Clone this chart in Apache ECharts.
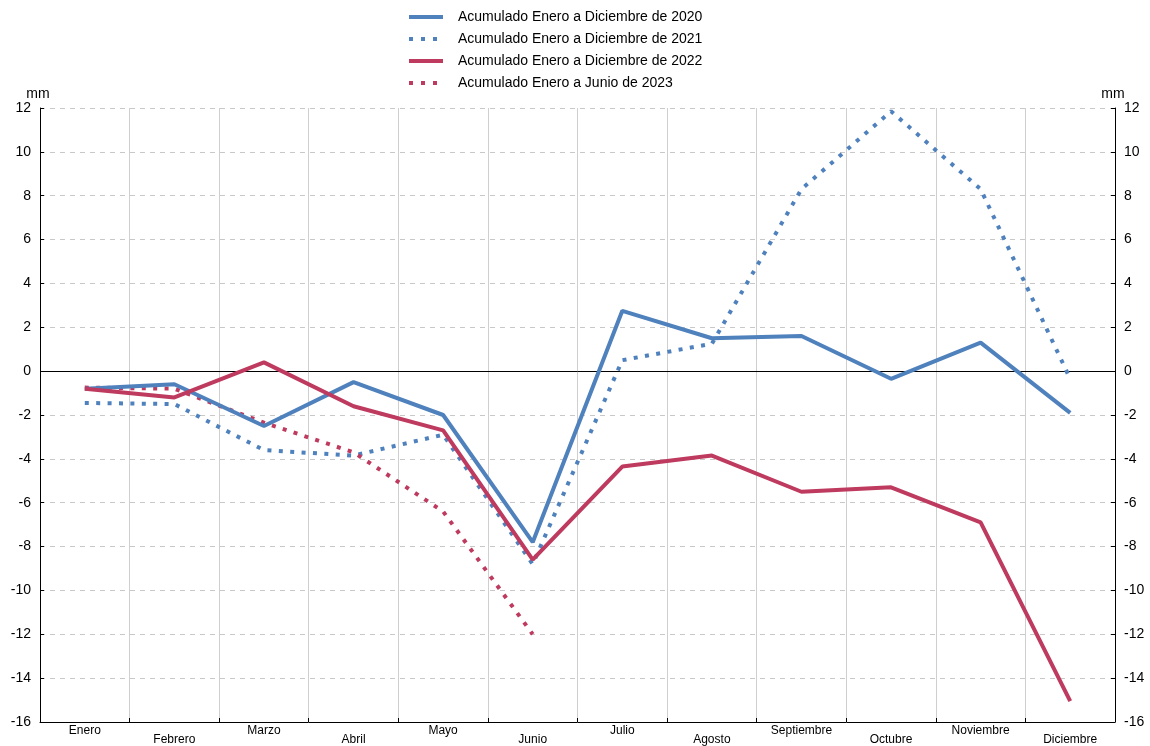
<!DOCTYPE html>
<html>
<head>
<meta charset="utf-8">
<script src="https://cdn.jsdelivr.net/npm/echarts@6/dist/echarts.min.js"></script>
<style>
html,body{margin:0;padding:0;background:#fff;}
#c{width:1150px;height:746px;}
</style>
</head>
<body>
<div id="c"></div>
<script>
const months = ['Enero','Febrero','Marzo','Abril','Mayo','Junio','Julio','Agosto','Septiembre','Octubre','Noviembre','Diciembre'];
const names = ['Acumulado Enero a Diciembre de 2020','Acumulado Enero a Diciembre de 2021','Acumulado Enero a Diciembre de 2022','Acumulado Enero a Junio de 2023'];
const s2020 = [-0.8, -0.6, -2.5, -0.5, -2.0, -7.8, 2.75, 1.5, 1.6, -0.35, 1.3, -1.9];
const s2021 = [-1.45, -1.5, -3.6, -3.85, -2.9, -8.8, 0.5, 1.25, 8.3, 11.85, 8.3, -0.35];
const s2022 = [-0.8, -1.2, 0.4, -1.6, -2.7, -8.6, -4.35, -3.85, -5.5, -5.3, -6.9, -15.05];
const s2023 = [-0.75, -0.8, -2.35, -3.7, -6.4, -12.0];
const yTicks = {min: -16, max: 12, interval: 2};

const BLUE = '#4F81BD', RED = '#BE3A5E';
const FONT = 'Liberation Sans, Arial, sans-serif';

const chart = echarts.init(document.getElementById('c'), null, {renderer: 'canvas'});

function yAxisDef(pos, showSplit) {
  return {
    type: 'value', position: pos,
    min: yTicks.min, max: yTicks.max, interval: yTicks.interval,
    name: 'mm', nameLocation: 'end', nameGap: 0,
    nameTextStyle: {fontFamily: FONT, fontSize: 14, color: '#000', align: 'center', verticalAlign: 'bottom',
      padding: [0, 4, 0, 0]},
    axisLine: {show: true, lineStyle: {color: '#000', width: 1}},
    axisTick: {show: true, inside: true, length: 4, lineStyle: {color: '#000'}},
    axisLabel: {fontFamily: FONT, fontSize: 14, color: '#000', margin: 9},
    splitLine: {show: showSplit, lineStyle: {color: '#c8c8c8', type: [5, 5], width: 1}}
  };
}

const legendStyles = [
  {color: BLUE, type: 'solid'},
  {color: BLUE, type: [4, 8]},
  {color: RED, type: 'solid'},
  {color: RED, type: [4, 8]}
];

const option = {
  backgroundColor: '#fff',
  animation: false,
  legend: {
    orient: 'vertical', left: 402, top: 5,
    itemWidth: 34, itemHeight: 14, itemGap: 8,
    itemStyle: {opacity: 0, borderWidth: 0},
    textStyle: {fontFamily: FONT, fontSize: 14, color: '#000', padding: [0, 0, 0, 10]},
    data: names.map(function (n, i) {
      return {name: n, itemStyle: {opacity: 0, borderWidth: 0},
        lineStyle: {color: legendStyles[i].color, width: 4, type: legendStyles[i].type, cap: 'butt'}};
    })
  },
  grid: {left: 40, right: 35, top: 108, bottom: 22, containLabel: false},
  xAxis: {
    type: 'category', data: months, boundaryGap: true,
    axisLine: {show: true, onZero: false, lineStyle: {color: '#000', width: 1}},
    axisTick: {show: true, inside: true, length: 4, lineStyle: {color: '#000'}},
    axisLabel: {
      interval: 0, margin: 3, fontFamily: FONT, fontSize: 12, color: '#000',
      formatter: function (v, i) { return i % 2 === 0 ? '{a|' + v + '}' : '{b|' + v + '}'; },
      rich: {
        a: {fontFamily: FONT, fontSize: 12, color: '#000', lineHeight: 12},
        b: {fontFamily: FONT, fontSize: 12, color: '#000', lineHeight: 30}
      }
    },
    splitLine: {show: true, lineStyle: {color: '#cfcfcf', width: 1, type: 'solid'}}
  },
  yAxis: [yAxisDef('left', true), yAxisDef('right', false)],
  series: [
    {
      name: names[0], type: 'line', data: s2020, yAxisIndex: 0, symbol: 'none', z: 4,
      lineStyle: {color: BLUE, width: 4, type: 'solid'}, itemStyle: {color: BLUE},
      markLine: {
        silent: true, symbol: 'none', label: {show: false},
        lineStyle: {color: '#000', width: 1, type: 'solid'},
        data: [{yAxis: 0}], z: 1
      }
    },
    {
      name: names[1], type: 'line', data: s2021, yAxisIndex: 0, symbol: 'none', z: 3,
      lineStyle: {color: BLUE, width: 4, type: [4, 7.4], cap: 'butt'}, itemStyle: {color: BLUE}
    },
    {
      name: names[2], type: 'line', data: s2022, yAxisIndex: 0, symbol: 'none', z: 4,
      lineStyle: {color: RED, width: 4, type: 'solid'}, itemStyle: {color: RED}
    },
    {
      name: names[3], type: 'line', data: s2023, yAxisIndex: 0, symbol: 'none', z: 3,
      lineStyle: {color: RED, width: 4, type: [4, 7.4], cap: 'butt'}, itemStyle: {color: RED}
    }
  ]
};
chart.setOption(option);
</script>
</body>
</html>
